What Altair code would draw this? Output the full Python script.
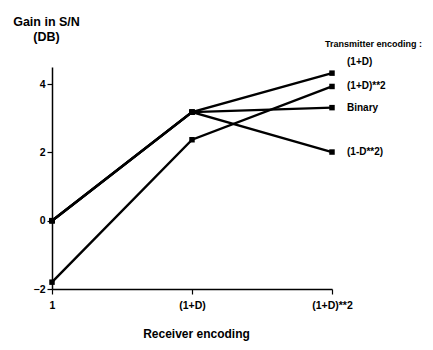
import altair as alt
import pandas as pd

receivers = ["1", "(1+D)", "(1+D)**2"]
series_names = ["(1+D)", "(1+D)**2", "Binary", "(1-D**2)"]
gain_1pd = [0.0, 3.18, 4.32]
gain_1pd2 = [-1.8, 2.37, 3.93]
gain_binary = [0.0, 3.18, 3.31]
gain_1md2 = [0.0, 3.18, 2.01]
y_ticks = [-2, -1, 0, 1, 2, 3, 4]

rows = []
for name, vals in zip(series_names, [gain_1pd, gain_1pd2, gain_binary, gain_1md2]):
    for r, v in zip(receivers, vals):
        rows.append({"receiver": r, "gain": v, "tx": name})
df = pd.DataFrame(rows)
ends = df[df.receiver == receivers[-1]]
ends_top = ends[ends.tx == series_names[0]]
ends_rest = ends[ends.tx != series_names[0]]

FONT = "Liberation Sans"

x_enc = alt.X(
    "receiver:N",
    sort=receivers,
    scale=alt.Scale(type="point", padding=0, domain=receivers),
    axis=alt.Axis(
        title="Receiver encoding",
        titleFontSize=12,
        titleFontWeight="bold",
        titleFont=FONT,
        titleX=144,
        titleY=48,
        titleAlign="center",
        titleBaseline="alphabetic",
        labelAngle=0,
        labelFontSize=10.5,
        labelFont=FONT,
        labelFontWeight="bold",
        labelPadding=6,
        tickSize=5,
        tickColor="black",
        tickWidth=1.2,
        domainColor="black",
        domainWidth=1.5,
        labelColor="black",
        titleColor="black",
    ),
)
y_enc = alt.Y(
    "gain:Q",
    scale=alt.Scale(domain=[-2, 4.5], nice=False, zero=False),
    axis=alt.Axis(
        values=y_ticks,
        labelExpr="datum.value % 2 == 0 ? datum.label : ''",
        title=["Gain in S/N", "(DB)"],
        titleAngle=0,
        titleAlign="center",
        titleBaseline="alphabetic",
        titleX=-6,
        titleY=-42,
        titleLineHeight=15,
        titleFontSize=12.5,
        titleFontWeight="bold",
        titleFont=FONT,
        labelFontSize=10.5,
        labelFont=FONT,
        labelFontWeight="bold",
        labelPadding=2,
        tickSize=5,
        tickWidth=1.2,
        grid=False,
        tickColor="black",
        domainColor="black",
        domainWidth=1.5,
        labelColor="black",
        titleColor="black",
    ),
)

base = alt.Chart(df)
lines = base.mark_line(color="black", strokeWidth=2.4).encode(x=x_enc, y=y_enc, detail="tx:N")
points = base.mark_square(color="black", size=30, opacity=1, filled=True).encode(x=x_enc, y=y_enc)

lab_kw = dict(align="left", baseline="middle", dx=15, fontSize=10, font=FONT, fontWeight="bold", color="black")
labels_rest = alt.Chart(ends_rest).mark_text(**lab_kw).encode(
    x=alt.X("receiver:N", sort=receivers), y="gain:Q", text="tx:N"
)
labels_top = alt.Chart(ends_top).mark_text(dy=-11, **lab_kw).encode(
    x=alt.X("receiver:N", sort=receivers), y="gain:Q", text="tx:N"
)
legend_title = alt.Chart(pd.DataFrame({"t": ["Transmitter encoding :"]})).mark_text(
    align="left", baseline="middle", fontSize=9, font=FONT, fontWeight="bold", color="black"
).encode(x=alt.value(273), y=alt.value(-23), text="t:N")

chart = alt.layer(lines, points, labels_rest, labels_top, legend_title).properties(
    width=280,
    height=222,
    autosize=alt.AutoSizeParams(type="none"),
    padding={"left": 44, "top": 59, "right": 93, "bottom": 52},
).configure_view(stroke=None).configure_axis(grid=False)

chart.save("out.html", embed_options={"renderer": "svg", "actions": False})
